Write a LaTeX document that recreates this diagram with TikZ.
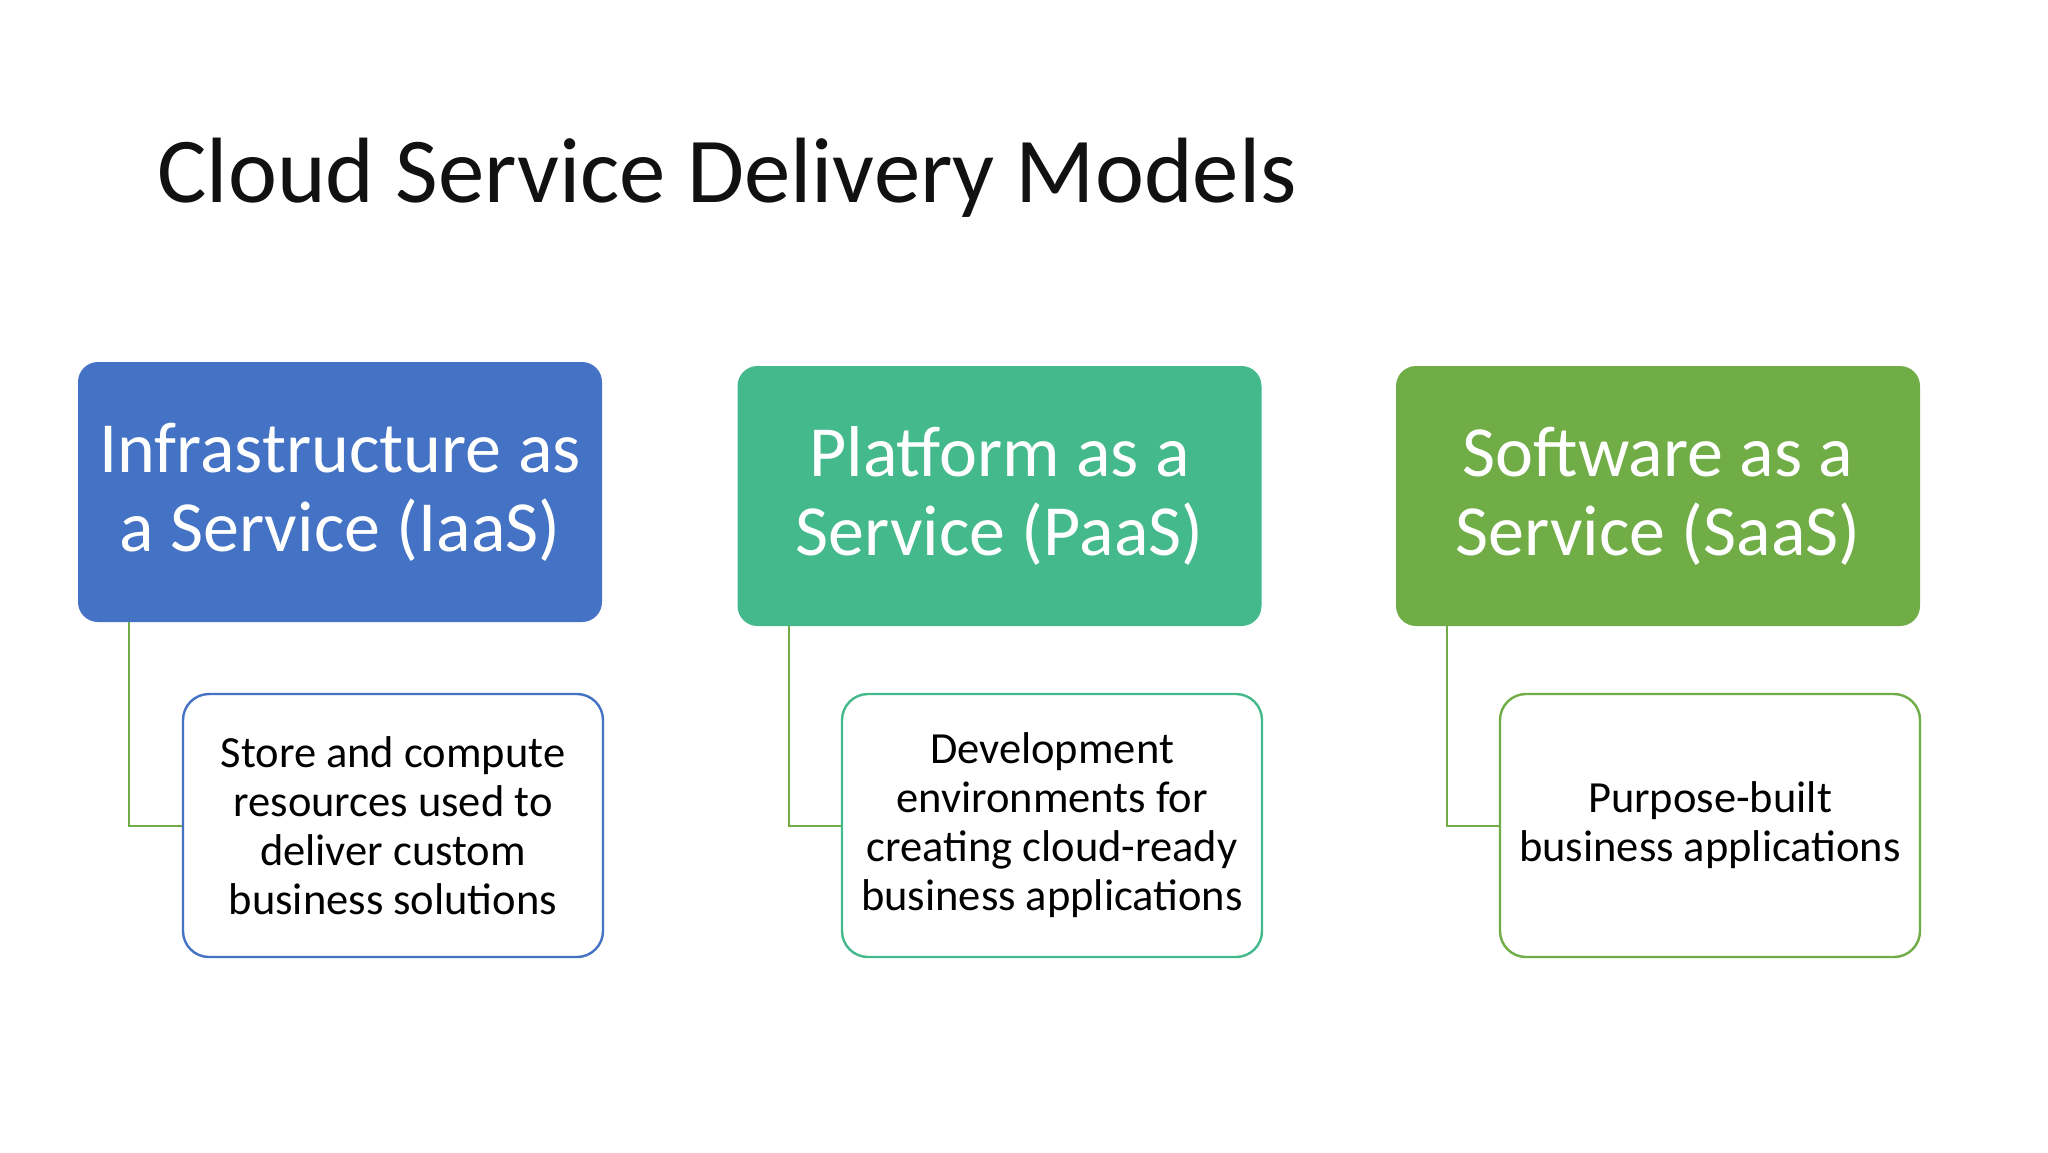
\documentclass[tikz,border=0pt]{standalone}
\usepackage{fontspec}
\setmainfont{Carlito}
\definecolor{iaas}{HTML}{4472C4}
\definecolor{paas}{HTML}{44B98C}
\definecolor{saas}{HTML}{70AD47}
\definecolor{conn}{HTML}{70AD47}
\definecolor{titlecol}{HTML}{111111}
\tikzset{
  hdr/.style={rounded corners=10pt, minimum width=262pt, minimum height=130pt, align=center, text=white,
    font=\fontsize{36pt}{39.5pt}\selectfont, inner sep=0pt},
  child/.style={rounded corners=13pt, minimum width=210pt, minimum height=131.5pt, align=center, text=black,
    fill=white, line width=1.2pt, font=\fontsize{22.25pt}{24.5pt}\selectfont, inner sep=0pt},
  link/.style={draw=conn, line width=1pt},
  titletext/.style={font=\fontsize{46.4pt}{50pt}\selectfont, text=titlecol, inner sep=0pt, anchor=base west}
}
\begin{document}
\begin{tikzpicture}[x=0.5pt,y=-0.5pt]
\useasboundingbox[fill=white] (0,0) rectangle (2048,1152);
\node[titletext] (title) at (157,202) {Cloud Service Delivery Models};

\node[hdr, fill=iaas] (ha) at (340,492) {Infrastructure as\\a Service (IaaS)};
\node[hdr, fill=paas] (hp) at (999.5,496) {Platform as a\\Service (PaaS)};
\node[hdr, fill=saas] (hs) at (1658,496) {Software as a\\Service (SaaS)};

\node[child, draw=iaas] (ca) at (393,825.5) {Store and compute\\resources used to\\deliver custom\\business solutions};
\node[child, draw=paas] (cp) at (1052,825.5) {Development\\environments for\\creating cloud-ready\\business applications};
\node[child, draw=saas] (cs) at (1710,825.5) {Purpose-built\\business applications};

\coordinate (sa) at ([xshift=25.5pt]ha.south west);
\coordinate (sp) at ([xshift=26pt]hp.south west);
\coordinate (ss) at ([xshift=25.5pt]hs.south west);
\draw[link] (sa) |- (ca.west);
\draw[link] (sp) |- (cp.west);
\draw[link] (ss) |- (cs.west);
\end{tikzpicture}
\end{document}
